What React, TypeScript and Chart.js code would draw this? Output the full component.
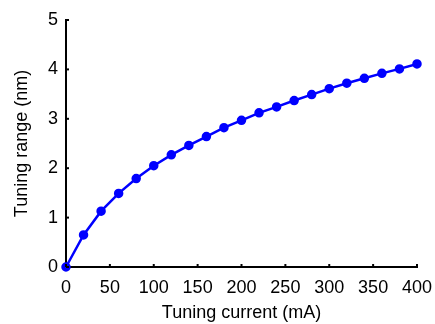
import React, { useEffect, useRef } from "react";
import { Chart, registerables } from "chart.js";

Chart.register(...registerables);

const currents = [0, 20, 40, 60, 80, 100, 120, 140, 160, 180, 200, 220, 240, 260, 280, 300, 320, 340, 360, 380, 400];
const tuningRange = [0, 0.65, 1.13, 1.49, 1.79, 2.05, 2.27, 2.46, 2.64, 2.82, 2.97, 3.12, 3.24, 3.37, 3.49, 3.61, 3.72, 3.82, 3.92, 4.01, 4.11];
const xTitle = "Tuning current (mA)";
const yTitle = "Tuning range (nm)";

const FONT = "'Liberation Sans', Arial, sans-serif";

const innerTicks = {
  id: "innerTicks",
  afterDraw(chart: any) {
    const ctx = chart.ctx;
    const xs = chart.scales.x;
    const ys = chart.scales.y;
    ctx.save();
    ctx.strokeStyle = "#000";
    ctx.lineWidth = 2;
    xs.ticks.forEach((t: any) => {
      const px = xs.getPixelForValue(t.value);
      ctx.beginPath();
      ctx.moveTo(px, ys.bottom);
      ctx.lineTo(px, ys.bottom - 3);
      ctx.stroke();
    });
    ys.ticks.forEach((t: any) => {
      const py = ys.getPixelForValue(t.value);
      ctx.beginPath();
      ctx.moveTo(xs.left, py);
      ctx.lineTo(xs.left + 3, py);
      ctx.stroke();
    });
    ctx.restore();
  },
};

export default function App() {
  const ref = useRef<HTMLCanvasElement>(null);
  useEffect(() => {
    document.body.style.margin = "0";
    const chart = new Chart(ref.current!, {
      type: "line",
      data: {
        datasets: [
          {
            data: currents.map((c, i) => ({ x: c, y: tuningRange[i] })),
            borderColor: "#0000ff",
            backgroundColor: "#0000ff",
            borderWidth: 2.5,
            pointRadius: 3.5,
            pointHoverRadius: 3.5,
            clip: false as any,
          },
        ],
      },
      options: {
        animation: false,
        responsive: false,
        maintainAspectRatio: false,
        layout: { padding: { top: 20, right: 18, left: 11, bottom: 0 } },
        plugins: { legend: { display: false }, tooltip: { enabled: false } },
        scales: {
          x: {
            type: "linear",
            min: 0,
            max: 400,
            afterFit: (s: any) => { s.height = 57; },
            border: { color: "#000", width: 2 },
            grid: { display: false },
            ticks: { stepSize: 50, color: "#000", font: { family: FONT, size: 18 }, padding: 2, maxRotation: 0 },
            title: { display: true, text: xTitle, color: "#000", font: { family: FONT, size: 18 }, padding: { top: 0, bottom: 0 } },
          },
          y: {
            type: "linear",
            min: 0,
            max: 5,
            afterFit: (s: any) => { s.width = 55; },
            border: { color: "#000", width: 2 },
            grid: { display: false },
            ticks: { stepSize: 1, color: "#000", font: { family: FONT, size: 18 }, padding: 0 },
            title: { display: true, text: yTitle, color: "#000", font: { family: FONT, size: 18 }, padding: { top: 0, bottom: 0 } },
          },
        },
      },
      plugins: [innerTicks],
    });
    return () => chart.destroy();
  }, []);
  return (
    <div style={{ position: "absolute", left: 0, top: 0, width: 435, height: 324, background: "#fff" }}>
      <canvas ref={ref} width={435} height={324} />
    </div>
  );
}
